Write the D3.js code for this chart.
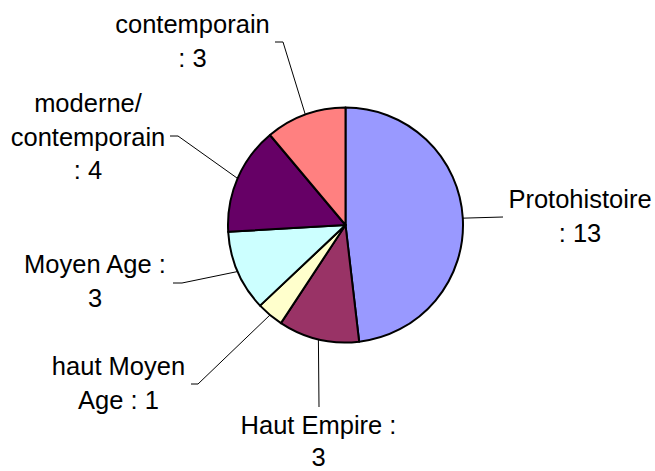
<!DOCTYPE html>
<html>
<head>
<meta charset="utf-8">
<script src="https://cdn.jsdelivr.net/npm/d3@7"></script>
<style>
  html, body { margin: 0; padding: 0; background: #fff; }
  svg { display: block; }
  text { font-family: "Liberation Sans", Arial, sans-serif; font-size: 25.5px; fill: #000; }
</style>
</head>
<body>
<div id="chart"></div>
<script>
// periods and number of sites, clockwise from 12 o'clock
const categories = ["Protohistoire", "Haut Empire", "haut Moyen Age", "Moyen Age", "moderne/contemporain", "contemporain"];
const counts = [13, 3, 1, 3, 4, 3];
const colors = ["#9999FF", "#993366", "#FFFFCC", "#CCFFFF", "#660066", "#FF8080"];
// how many words go on each label line (rest goes on the last line)
const labelBreaks = [[1], [3], [2], [3], [1, 1], [1]];

// label placement (text centre / first baseline, line gap, leader elbow and end)
const labelPos = [
    { x: 580, y: 208, gap: 33.5, elbow: null, end: [503, 217] },
    { x: 318.5, y: 434, gap: 31.5, elbow: null, end: [319, 407] },
    { x: 118.5, y: 375, gap: 33.5, elbow: [198, 384], end: [191, 384] },
    { x: 95, y: 273, gap: 33.5, elbow: [182, 283], end: [173, 283] },
    { x: 88, y: 112, gap: 33.5, elbow: [178, 136], end: [170, 136] },
    { x: 192.5, y: 33, gap: 33.5, elbow: [283, 42], end: [275, 42] }
];

var width = 655,
    height = 471,
    radius = 117.5,
    cx = 345.5,
    cy = 225;

var svg = d3.select("#chart").append("svg")
    .attr("width", width)
    .attr("height", height);

var pie = d3.pie().sort(null).value(d => d.value);
var arc = d3.arc().innerRadius(0).outerRadius(radius);
var edge = d3.arc().innerRadius(radius).outerRadius(radius);

const rows = categories.map((c, i) => ({ name: c, value: counts[i], color: colors[i], i: i }));
const arcs = pie(rows);

var g = svg.append("g").attr("transform", "translate(" + cx + "," + cy + ")");

g.selectAll("path.slice")
    .data(arcs)
    .enter().append("path")
    .attr("class", "slice")
    .attr("d", arc)
    .attr("fill", d => d.data.color)
    .attr("stroke", "#000")
    .attr("stroke-width", 2)
    .attr("stroke-linejoin", "round");

// leader lines
svg.selectAll("path.leader")
    .data(arcs)
    .enter().append("path")
    .attr("class", "leader")
    .attr("d", d => {
        const p = edge.centroid(d);
        const lp = labelPos[d.data.i];
        const pts = [[p[0] + cx, p[1] + cy]];
        if (lp.elbow) pts.push(lp.elbow);
        pts.push(lp.end);
        return d3.line()(pts);
    })
    .attr("fill", "none")
    .attr("stroke", "#000")
    .attr("stroke-width", 1);

// split "a b/c : n" into lines
function labelLines(d) {
    const text = d.name + " : " + d.value;
    let words = [];
    text.split(" ").forEach(w => {
        const parts = w.split(/(?<=\/)/);
        parts.forEach(p => words.push(p));
    });
    const lines = [];
    let k = 0;
    labelBreaks[d.i].forEach(n => {
        lines.push(words.slice(k, k + n));
        k += n;
    });
    lines.push(words.slice(k));
    return lines.map(ws => ws.reduce((s, w, j) => {
        if (j === 0) return w;
        return s.endsWith("/") ? s + w : s + " " + w;
    }, ""));
}

var labels = svg.selectAll("text.lbl")
    .data(rows)
    .enter().append("text")
    .attr("class", "lbl")
    .attr("text-anchor", "middle");

labels.each(function (d) {
    const lp = labelPos[d.i];
    d3.select(this).selectAll("tspan")
        .data(labelLines(d))
        .enter().append("tspan")
        .attr("x", lp.x)
        .attr("y", (t, j) => lp.y + j * lp.gap)
        .text(t => t);
});
</script>
</body>
</html>
